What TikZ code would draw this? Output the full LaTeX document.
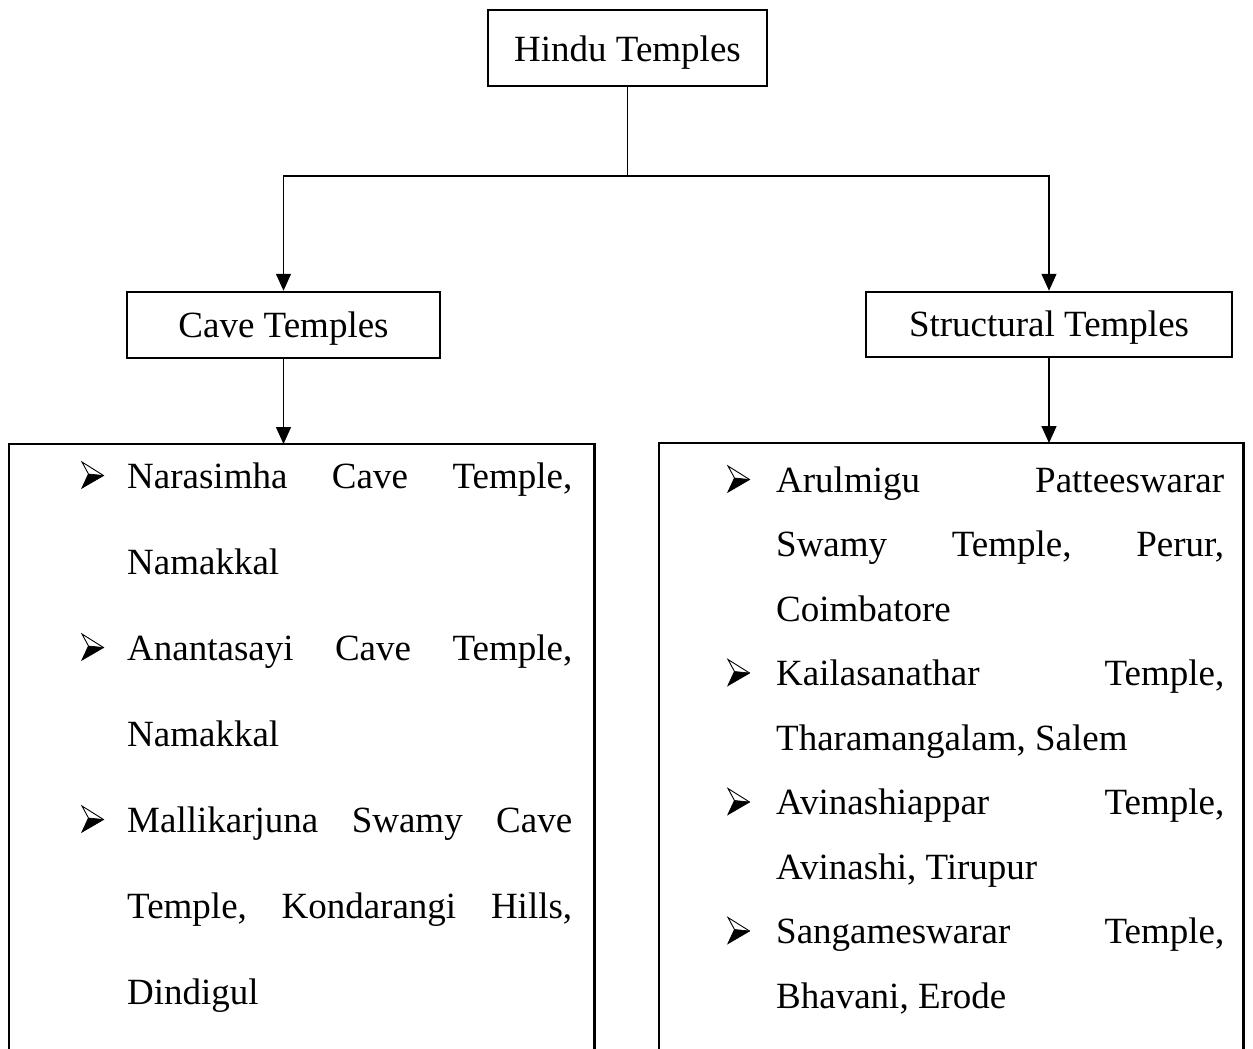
\documentclass[tikz,border=0pt]{standalone}
\usepackage{fontspec}
\setmainfont{Liberation Serif}
\usetikzlibrary{arrows.meta}
\tikzset{
  box/.style={draw, line width=2.5pt, minimum height=66pt, inner sep=0pt,
    text height=25pt, text depth=1pt,
    font=\fontsize{37}{44}\selectfont},
  conn/.style={line width=1.4pt},
  arr/.style={conn, -{Triangle[width=15pt,length=17pt]}},
  frame/.style={line width=2.6pt},
  frameholder/.style={inner sep=0pt, anchor=north west},
  line/.style={anchor=base west, inner sep=0pt, font=\fontsize{37}{44}\selectfont},
  bul/.pic={
    \fill (6.5,-14) -- (21.5,-12.5) -- (0,0) -- cycle;
    \draw[line width=0.9pt, line join=miter] (0,-26) -- (21.5,-12.5) -- (0,0) -- (6.5,-14) -- cycle;
    \draw[line width=0.7pt] (6.5,-14) -- (21.5,-12.5);
  }
}
\newcommand{\lw}[1]{\hbox to 445pt{#1}}
\newcommand{\rw}[1]{\hbox to 448pt{#1}}
\begin{document}
\begin{tikzpicture}[x=1pt,y=-1pt]
\useasboundingbox (0,0) rectangle (1253,1049);

% top boxes
\node[box, minimum width=279pt, minimum height=76pt, text height=28pt, text depth=0pt] (hindu) at (627.5,48) {Hindu Temples};
\node[box, minimum width=313pt] (cave) at (283.5,325) {Cave Temples};
\node[box, minimum width=366pt, minimum height=65pt] (struct) at (1049,324.5) {Structural Temples};

% list frames (open at the bottom)
\node[frameholder, minimum width=585pt, minimum height=640pt] (lframe) at (9,444) {};
\node[frameholder, minimum width=584pt, minimum height=640pt] (rframe) at (659,443) {};
\draw[frame] (lframe.south west) -- (lframe.north west) -- (lframe.north east) -- (lframe.south east);
\draw[frame] (rframe.south west) -- (rframe.north west) -- (rframe.north east) -- (rframe.south east);

% connectors
\coordinate (j) at (627.5,176);
\draw[conn] (hindu.south) -- (j);
\draw[arr] (j) -| (cave.north);
\draw[arr] (j) -| (struct.north);
\draw[arr] (cave.south) -- (cave.south |- lframe.north);
\draw[arr] (struct.south) -- (struct.south |- rframe.north);

% left list
\node[line] (l0) at (127,488) {\lw{Narasimha\hfill Cave\hfill Temple,}};
\node[line] (l1) at (127,574) {Namakkal};
\node[line] (l2) at (127,660) {\lw{Anantasayi\hfill Cave\hfill Temple,}};
\node[line] (l3) at (127,746) {Namakkal};
\node[line] (l4) at (127,832) {\lw{Mallikarjuna\hfill Swamy\hfill Cave}};
\node[line] (l5) at (127,918) {\lw{Temple,\hfill Kondarangi\hfill Hills,}};
\node[line] (l6) at (127,1004) {Dindigul};
\pic at (82,488) {bul};
\pic at (82,660) {bul};
\pic at (82,832) {bul};

% right list
\node[line] (r0) at (776,492) {\rw{Arulmigu\hfill Patteeswarar}};
\node[line] (r1) at (776,556.5) {\rw{Swamy\hfill Temple,\hfill Perur,}};
\node[line] (r2) at (776,621) {Coimbatore};
\node[line] (r3) at (776,685.5) {\rw{Kailasanathar\hfill Temple,}};
\node[line] (r4) at (776,750) {Tharamangalam, Salem};
\node[line] (r5) at (776,814.5) {\rw{Avinashiappar\hfill Temple,}};
\node[line] (r6) at (776,879) {Avinashi, Tirupur};
\node[line] (r7) at (776,943.5) {\rw{Sangameswarar\hfill Temple,}};
\node[line] (r8) at (776,1008) {Bhavani, Erode};
\pic at (728,492) {bul};
\pic at (728,685.5) {bul};
\pic at (728,814.5) {bul};
\pic at (728,943.5) {bul};
\end{tikzpicture}
\end{document}
